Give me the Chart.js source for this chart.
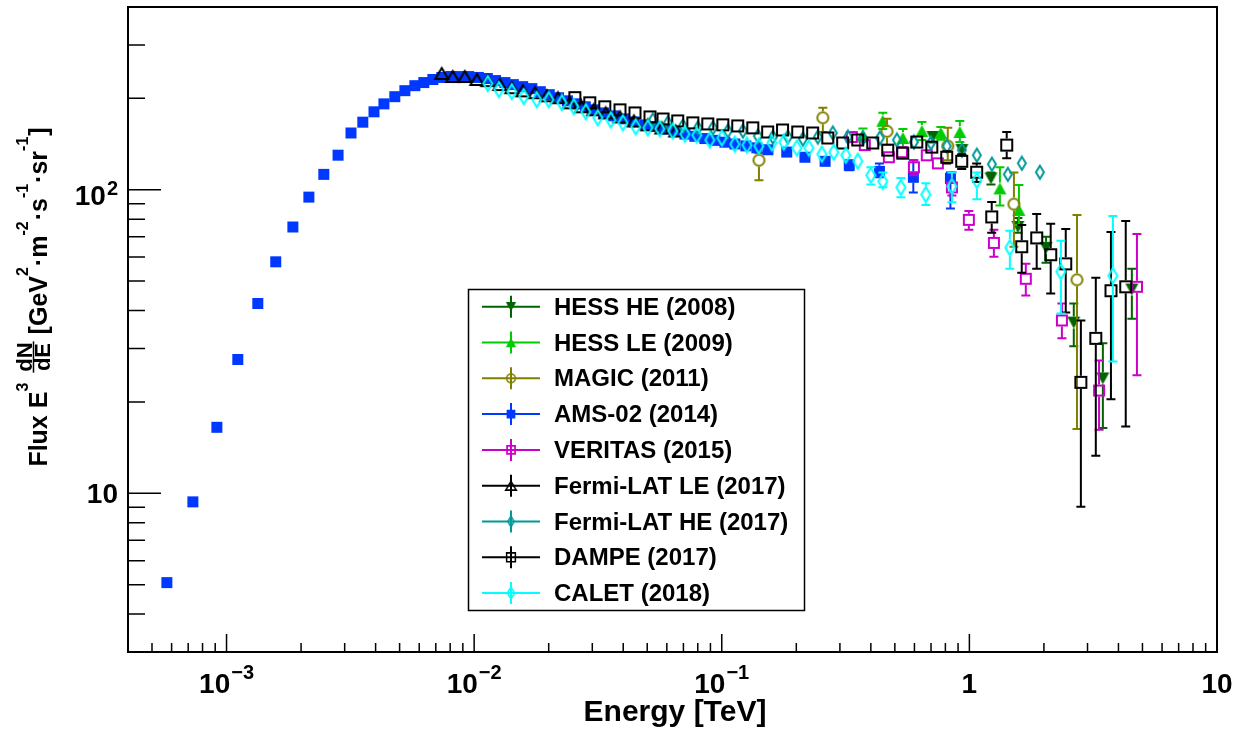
<!DOCTYPE html>
<html>
<head>
<meta charset="utf-8">
<script src="https://cdn.jsdelivr.net/npm/chart.js@4.4.0/dist/chart.umd.min.js"></script>
<style>
  html, body { margin: 0; padding: 0; background: #fff; }
  canvas { display: block; }
</style>
</head>
<body>
<canvas id="plot" width="1236" height="731"></canvas>
<script>
// ---- data (energy in TeV, E^3 flux) ----
const hessHeE = [0.712, 0.933, 1.222, 1.57, 2.04, 2.64, 3.46, 4.53];
const hessHeF = [149.2, 135.1, 109, 75.4, 64.4, 36.5, 23.9, 46.9];
const hessHeLo = [143, 130, 104, 72.1, 57.5, 30.5, 16.4, 37.6];
const hessHeHi = [155, 140, 114, 80.7, 70.0, 42.2, 31.2, 54.9];

const hessLeE = [0.3715, 0.447, 0.539, 0.643, 0.767, 0.915, 1.328, 1.585];
const hessLeF = [151.4, 168.7, 148.1, 156.2, 153.9, 155, 101, 85.8];
const hessLeLo = [144, 158.5, 138, 145.9, 146, 143.6, 88.7, 76.5];
const hessLeHi = [159, 179.3, 158.5, 167.3, 161, 168.6, 118.6, 103.6];

const magicE = [0.1413, 0.256, 0.465, 0.818, 1.513, 2.72];
const magicF = [125.1, 172.6, 155.8, 139.3, 89.7, 50.5];
const magicLo = [107.4, 155, 140.3, 125.1, 64.9, 16.3];
const magicHi = [132, 186.2, 171.2, 159.9, 114, 82.6];

const amsE = [5.74e-4, 7.31e-4, 9.14e-4, 1.11e-3, 1.337e-3, 1.58e-3, 1.853e-3, 2.15e-3, 2.47e-3, 2.82e-3,
  3.18e-3, 3.55e-3, 3.94e-3, 4.32e-3, 4.78e-3, 5.25e-3, 5.76e-3, 6.26e-3, 6.81e-3, 7.4e-3,
  8.05e-3, 8.75e-3, 9.5e-3, 0.0104, 0.0113, 0.0122, 0.0133, 0.0144, 0.0157, 0.0171,
  0.0185, 0.0201, 0.0219, 0.0238, 0.0259, 0.0281, 0.0306, 0.0333, 0.0366, 0.0402,
  0.0442, 0.0489, 0.05368, 0.05891, 0.06464, 0.07096, 0.07787, 0.08546, 0.09378, 0.1029,
  0.1129, 0.1251, 0.1386, 0.1536, 0.1829, 0.2166, 0.2614, 0.3271, 0.4331, 0.5937, 0.8383];
const amsF = [5.08, 9.37, 16.5, 27.6, 42.2, 57.9, 75.4, 94.6, 112.4, 130,
  153.8, 167, 180.7, 191.9, 202.6, 212.1, 220.3, 225.5, 230.8, 234.5,
  236.2, 236, 236, 234.5, 232.6, 229, 225.5, 222, 218.7, 215.4,
  210.5, 205.7, 201, 196.4, 192, 187.6, 183.3, 179.1, 175.2, 171.2,
  167.3, 163.6, 161.5, 158.5, 155.5, 152.5, 150, 147.5, 145.5, 143.5,
  141.5, 139.5, 137.5, 135.5, 133.1, 128, 124.1, 120.4, 115, 109.9, 109];
const amsLo = Array(57).fill(null).concat([116, 110, 98, 86.7]);
const amsHi = Array(57).fill(null).concat([125, 122, 125, 114]);

const veritasE = [0.335, 0.378, 0.473, 0.534, 0.597, 0.673, 0.746, 0.85, 0.995, 1.256, 1.69, 2.364, 3.34, 4.75];
const veritasF = [149.2, 140.3, 128, 133, 118.6, 129.9, 122.2, 101.8, 79.6, 66.8, 50.9, 37.1, 21.8, 47.9];
const veritasLo = [null, null, null, null, 111.6, null, null, 95.7, 73.8, 60.1, 44.8, 32.4, 16.2, 24.5];
const veritasHi = [null, null, null, null, 125, null, null, 114.2, 85.1, 73.8, 57.0, 42.2, 27.4, 71.5];

const fermiLeE = [7.40e-3, 8.20e-3, 9.17e-3, 0.01026, 0.01136, 0.0127, 0.0142, 0.01573, 0.0176, 0.01966,
  0.0218, 0.0243, 0.0272, 0.0304, 0.0340, 0.0388, 0.0442, 0.0503, 0.0573, 0.0652];
const fermiLeF = [241.6, 236, 236, 230.8, 228.8, 222, 216.8, 211.8, 208.8, 204,
  201, 193.4, 187.6, 183.4, 179.1, 173.8, 168.6, 163.6, 159.8, 156.2];

const fermiHeE = [0.05268, 0.06058, 0.06966, 0.0801, 0.09208, 0.1058, 0.1217, 0.1399, 0.1609, 0.1849,
  0.2126, 0.2444, 0.281, 0.3231, 0.3715, 0.435, 0.5096, 0.5969, 0.6991, 0.8111,
  0.9326, 1.072, 1.233, 1.43, 1.629, 1.927];
const fermiHeF = [169.9, 166.1, 162.3, 159.9, 159.9, 156.2, 156.2, 150.3, 149.2, 149.2,
  146.9, 149.2, 153.8, 149.2, 148.1, 148.1, 145.8, 143.6, 142.6, 139.3,
  135.1, 130, 121.4, 112.4, 122.3, 114.2];

const dampeE = [0.0255, 0.0293, 0.0337, 0.0388, 0.0446, 0.0513, 0.0579, 0.0664, 0.0764, 0.0878,
  0.101, 0.116, 0.1334, 0.1532, 0.176, 0.2026, 0.2328, 0.268, 0.3078, 0.354,
  0.407, 0.468, 0.538, 0.613, 0.705, 0.81, 0.931, 1.07, 1.231, 1.415,
  1.627, 1.87, 2.13, 2.45, 2.82, 3.24, 3.73, 4.28];
const dampeF = [201.1, 193.4, 187.6, 183.3, 179.1, 173.8, 171.1, 168.6, 166.1, 164.8,
  163.6, 162.3, 159.9, 155, 157.4, 155, 153.8, 148.1, 142.6, 145.9,
  142.6, 135.1, 132, 143.6, 138.2, 128, 124.1, 114.2, 81.4, 140.3,
  64.9, 69.4, 61.1, 57.0, 23.2, 32.4, 46.5, 47.9];
const dampeLo = Array(25).fill(null).concat([122, 117, 106, 72.1, 127, 53.3, 54.9, 45.5, 39.4, 9.03, 13.3, 20.4, 16.6]);
const dampeHi = Array(25).fill(null).concat([134, 131, 122, 91.1, 155, 76.5, 83.2, 77.2, 74.3, 37.1, 51.3, 72.6, 78.9]);

const caletE = [0.01136, 0.01259, 0.0142, 0.01587, 0.01791, 0.02003, 0.02261, 0.02527, 0.02826, 0.03159,
  0.03565, 0.03988, 0.04498, 0.05029, 0.05623, 0.06346, 0.07096, 0.0793, 0.08951, 0.1001,
  0.1129, 0.1263, 0.1412, 0.1594, 0.1781, 0.2011, 0.2248, 0.2537, 0.2836, 0.3171,
  0.3545, 0.4001, 0.4472, 0.529, 0.6672, 0.8499, 1.072, 1.457, 2.342, 3.799];
const caletF = [223.8, 213.8, 210.5, 202.6, 198, 198, 193.5, 187.7, 180.7, 172.6,
  169.9, 166.1, 161.1, 159.9, 158.7, 156.2, 152.6, 151.4, 145.8, 148.1,
  141.4, 140.3, 139.3, 142.6, 143.6, 137.2, 137.2, 131, 133, 130,
  124.2, 111.6, 106.6, 101.8, 96.5, 102.6, 107.4, 64.4, 53.7, 52.1];
const caletLo = Array(31).fill(null).concat([104, 102, 94.5, 89, 91, 93, 54.9, 39.1, 27.2]);
const caletHi = Array(31).fill(null).concat([118.6, 114, 109.3, 105, 114, 114, 73.2, 67.9, 82.0]);

// axis ranges and tick labels
const xMin = 4e-4, xMax = 10;
const yMin = 3, yMax = 400;
const xTickVals = [1e-3, 1e-2, 1e-1, 1, 10];
const xTickBase = ['10', '10', '10', '1', '10'];
const xTickSup = ['\u22123', '\u22122', '\u22121', '', ''];
const yTickVals = [10, 100];
const yTickBase = ['10', '10'];
const yTickSup = ['', '2'];

const FONT = '"Liberation Sans", Arial, Helvetica, sans-serif';

const series = [
  {label: 'HESS HE (2008)', e: hessHeE, f: hessHeF, lo: hessHeLo, hi: hessHeHi, color: '#006400', shape: 'down', filled: true, w: 13, h: 12},
  {label: 'HESS LE (2009)', e: hessLeE, f: hessLeF, lo: hessLeLo, hi: hessLeHi, color: '#00cc00', shape: 'up', filled: true, w: 13, h: 12},
  {label: 'MAGIC (2011)', e: magicE, f: magicF, lo: magicLo, hi: magicHi, color: '#808000', shape: 'circle', filled: false, w: 13, h: 13},
  {label: 'AMS-02 (2014)', e: amsE, f: amsF, lo: amsLo, hi: amsHi, color: '#0038ff', shape: 'square', filled: true, w: 11, h: 11},
  {label: 'VERITAS (2015)', e: veritasE, f: veritasF, lo: veritasLo, hi: veritasHi, color: '#cc00cc', shape: 'square', filled: false, w: 12, h: 12},
  {label: 'Fermi-LAT LE (2017)', e: fermiLeE, f: fermiLeF, lo: null, hi: null, color: '#000000', shape: 'up', filled: false, w: 15, h: 13},
  {label: 'Fermi-LAT HE (2017)', e: fermiHeE, f: fermiHeF, lo: null, hi: null, color: '#009999', shape: 'diamond', filled: false, w: 10, h: 15},
  {label: 'DAMPE (2017)', e: dampeE, f: dampeF, lo: dampeLo, hi: dampeHi, color: '#000000', shape: 'square', filled: false, w: 13, h: 13},
  {label: 'CALET (2018)', e: caletE, f: caletF, lo: caletLo, hi: caletHi, color: '#00ffff', shape: 'diamond', filled: false, w: 11, h: 17},
];

// ROOT-like marker drawn into a small canvas, used as pointStyle
function makeMarker(s) {
  const pad = 2, lw = 2;
  const c = document.createElement('canvas');
  c.width = s.w + pad * 2;
  c.height = s.h + pad * 2;
  const g = c.getContext('2d');
  g.translate(pad, pad);
  const i = s.filled ? 0 : lw / 2;
  const w = s.w, h = s.h;
  g.beginPath();
  if (s.shape === 'square') {
    g.rect(i, i, w - 2 * i, h - 2 * i);
  } else if (s.shape === 'circle') {
    g.ellipse(w / 2, h / 2, w / 2 - i, h / 2 - i, 0, 0, 2 * Math.PI);
  } else if (s.shape === 'up') {
    g.moveTo(w / 2, i); g.lineTo(w - i, h - i); g.lineTo(i, h - i); g.closePath();
  } else if (s.shape === 'down') {
    g.moveTo(i, i); g.lineTo(w - i, i); g.lineTo(w / 2, h - i); g.closePath();
  } else if (s.shape === 'diamond') {
    g.moveTo(w / 2, i); g.lineTo(w - i, h / 2); g.lineTo(w / 2, h - i); g.lineTo(i, h / 2); g.closePath();
  }
  if (s.filled) {
    g.fillStyle = s.color; g.fill();
  } else {
    g.lineWidth = lw; g.strokeStyle = s.color; g.lineJoin = 'miter'; g.stroke();
  }
  return c;
}
series.forEach(s => { s.marker = makeMarker(s); });

function drawErrors(chart, idx) {
  const s = series[idx];
  if (!s.lo) return;
  const ctx = chart.ctx, y = chart.scales.y;
  const pts = chart.getDatasetMeta(idx).data;
  ctx.save();
  ctx.strokeStyle = s.color;
  ctx.lineWidth = 2;
  ctx.beginPath();
  pts.forEach((p, j) => {
    if (s.lo[j] == null) return;
    const yl = y.getPixelForValue(s.lo[j]);
    const yh = y.getPixelForValue(s.hi[j]);
    const gap = s.h / 2;
    if (yh < p.y - gap) { ctx.moveTo(p.x, yh); ctx.lineTo(p.x, p.y - gap); }
    if (yl > p.y + gap) { ctx.moveTo(p.x, p.y + gap); ctx.lineTo(p.x, yl); }
    ctx.moveTo(p.x - 4.5, yh); ctx.lineTo(p.x + 4.5, yh);
    ctx.moveTo(p.x - 4.5, yl); ctx.lineTo(p.x + 4.5, yl);
  });
  ctx.stroke();
  ctx.restore();
}

function drawAxes(chart) {
  const ctx = chart.ctx, a = chart.chartArea;
  const x = chart.scales.x, y = chart.scales.y;
  ctx.save();
  ctx.strokeStyle = '#000';
  ctx.lineWidth = 1.5;
  ctx.beginPath();
  for (let d = -4; d <= 1; d++) {
    for (let m = 1; m <= 9; m++) {
      const v = m * Math.pow(10, d);
      const px = x.getPixelForValue(v);
      if (px < a.left + 1 || px > a.right - 1) continue;
      const len = m === 1 ? 18 : 9;
      ctx.moveTo(px, a.bottom); ctx.lineTo(px, a.bottom - len);
    }
  }
  for (let d = 0; d <= 2; d++) {
    for (let m = 1; m <= 9; m++) {
      const v = m * Math.pow(10, d);
      const py = y.getPixelForValue(v);
      if (py < a.top + 1 || py > a.bottom - 1) continue;
      const len = m === 1 ? 33 : 17;
      ctx.moveTo(a.left, py); ctx.lineTo(a.left + len, py);
    }
  }
  ctx.stroke();
  ctx.lineWidth = 2;
  ctx.strokeRect(a.left, a.top, a.right - a.left, a.bottom - a.top);

  // tick labels
  ctx.fillStyle = '#000';
  ctx.textBaseline = 'alphabetic';
  ctx.textAlign = 'left';
  const big = 'bold 28px ' + FONT, small = 'bold 20px ' + FONT;
  xTickVals.forEach((v, i) => {
    const px = x.getPixelForValue(v);
    ctx.font = big; const wb = ctx.measureText(xTickBase[i]).width;
    ctx.font = small; const ws = xTickSup[i] ? ctx.measureText(xTickSup[i]).width + 1 : 0;
    const x0 = px - (wb + ws) / 2;
    ctx.font = big; ctx.fillText(xTickBase[i], x0, 693);
    if (ws) { ctx.font = small; ctx.fillText(xTickSup[i], x0 + wb + 1, 679); }
  });
  yTickVals.forEach((v, i) => {
    const py = y.getPixelForValue(v);
    ctx.font = big; const wb = ctx.measureText(yTickBase[i]).width;
    ctx.font = small; const ws = yTickSup[i] ? ctx.measureText(yTickSup[i]).width + 1 : 0;
    const x0 = 118 - wb - ws;
    const base = yTickSup[i] ? py + 15 : py + 10;
    ctx.font = big; ctx.fillText(yTickBase[i], x0, base);
    if (ws) { ctx.font = small; ctx.fillText(yTickSup[i], x0 + wb + 1, base - 10); }
  });

  // x title
  ctx.font = 'bold 30px ' + FONT;
  ctx.textAlign = 'center';
  ctx.fillText('Energy [TeV]', 675, 721);
  ctx.restore();
}

function drawYTitle(chart) {
  const ctx = chart.ctx;
  const main = 'bold 25px ' + FONT, sup = 'bold 16px ' + FONT, frac = 'bold 22px ' + FONT;
  const parts = [
    {t: 'Flux E', f: main, dy: 0}, {t: '3', f: sup, dy: -19}, {gap: 9},
    {num: 'dN', den: 'dE'}, {gap: 7},
    {t: '[GeV', f: main, dy: 0}, {t: '2', f: sup, dy: -19},
    {t: '\u00b7m', f: main, dy: 0}, {t: '-2', f: sup, dy: -19},
    {t: '\u00b7s', f: main, dy: 0}, {t: '-1', f: sup, dy: -19},
    {t: '\u00b7sr', f: main, dy: 0}, {t: '-1', f: sup, dy: -19},
    {t: ']', f: main, dy: 0},
  ];
  ctx.save();
  let total = 0;
  parts.forEach(p => {
    if (p.gap) p.w = p.gap;
    else if (p.num) { ctx.font = frac; p.w = Math.max(ctx.measureText(p.num).width, ctx.measureText(p.den).width) + 2; }
    else { ctx.font = p.f; p.w = ctx.measureText(p.t).width + (p.f === sup ? 1 : 0); }
    total += p.w;
  });
  ctx.translate(47, 297);
  ctx.rotate(-Math.PI / 2);
  ctx.fillStyle = '#000';
  ctx.strokeStyle = '#000';
  ctx.textBaseline = 'alphabetic';
  let cx = -total / 2;
  parts.forEach(p => {
    if (p.num) {
      ctx.font = frac;
      ctx.textAlign = 'center';
      ctx.fillText(p.num, cx + p.w / 2, -15);
      ctx.fillText(p.den, cx + p.w / 2, 3);
      ctx.lineWidth = 1.5;
      ctx.beginPath(); ctx.moveTo(cx, -13.5); ctx.lineTo(cx + p.w, -13.5); ctx.stroke();
    } else if (p.t) {
      ctx.font = p.f;
      ctx.textAlign = 'left';
      ctx.fillText(p.t, cx, p.dy);
    }
    cx += p.w;
  });
  ctx.restore();
}

function drawLegend(chart) {
  const ctx = chart.ctx;
  ctx.save();
  ctx.fillStyle = '#fff';
  ctx.fillRect(468, 289, 337, 322);
  ctx.strokeStyle = '#000';
  ctx.lineWidth = 1.5;
  ctx.strokeRect(468.5, 289.5, 336, 321);
  ctx.font = 'bold 24px ' + FONT;
  ctx.textBaseline = 'alphabetic';
  series.forEach((s, i) => {
    const cy = 306.7 + i * 35.8;
    ctx.strokeStyle = s.color;
    ctx.lineWidth = 2;
    ctx.beginPath();
    ctx.moveTo(482, cy); ctx.lineTo(540, cy);
    ctx.moveTo(511, cy - 11); ctx.lineTo(511, cy + 11);
    ctx.stroke();
    const m = s.marker, sc = 0.8;
    ctx.drawImage(m, 511 - m.width * sc / 2, cy - m.height * sc / 2, m.width * sc, m.height * sc);
    ctx.fillStyle = '#000';
    ctx.fillText(s.label, 554, cy + 8);
  });
  ctx.restore();
}

const rootStyle = {
  id: 'rootStyle',
  beforeDraw(chart) {
    const ctx = chart.ctx;
    ctx.save();
    ctx.fillStyle = '#fff';
    ctx.fillRect(0, 0, chart.width, chart.height);
    ctx.restore();
  },
  beforeDatasetDraw(chart, args) {
    drawErrors(chart, args.index);
  },
  afterDraw(chart) {
    drawAxes(chart);
    drawYTitle(chart);
    drawLegend(chart);
  }
};

const ctx = document.getElementById('plot');

const config = {
  type: 'scatter',
  data: {
    datasets: series.map((s, i) => ({
      label: s.label,
      data: s.e.map((e, j) => ({x: e, y: s.f[j]})),
      pointStyle: s.marker,
      pointRadius: 6,
      pointHoverRadius: 6,
      order: series.length - i,
    }))
  },
  options: {
    responsive: false,
    maintainAspectRatio: false,
    devicePixelRatio: 1,
    animation: false,
    events: [],
    layout: {
      padding: {left: 128, right: 19, top: 6, bottom: 79}
    },
    plugins: {
      legend: {display: false},
      tooltip: {enabled: false},
      title: {display: false}
    },
    scales: {
      x: {type: 'logarithmic', min: xMin, max: xMax, display: false},
      y: {type: 'logarithmic', min: yMin, max: yMax, display: false}
    }
  },
  plugins: [rootStyle]
};

const chart = new Chart(ctx, config);
</script>
</body>
</html>
